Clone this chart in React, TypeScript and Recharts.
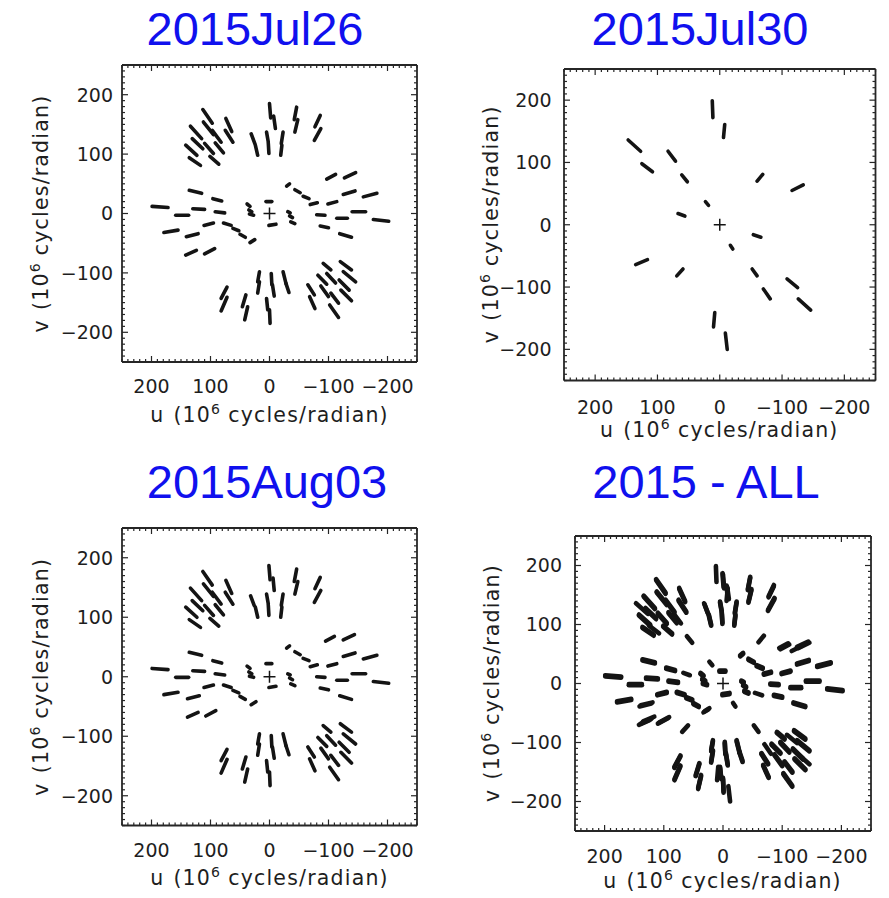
import React from 'react';
import { ScatterChart, Scatter, XAxis, YAxis, ReferenceLine } from 'recharts';

// Each baseline track: [u1, v1, u2, v2] in 10^6 cycles/radian
type Seg = [number, number, number, number];

const jul26Segments: Seg[] = [
  [113, 175, 97, 152], [74, 160, 64, 138], [134, 147, 115, 126], [112, 154, 95, 133],
  [97, 140, 82, 120], [75, 140, 62, 120], [131, 126, 113, 109], [142, 115, 123, 98],
  [110, 118, 95, 101], [92, 119, 78, 102], [136, 94, 117, 81], [101, 96, 86, 83],
  [0, 185, -2, 161], [-7, 164, -10, 143], [-46, 179, -42, 158], [-48, 158, -43, 137],
  [-86, 165, -77, 146], [-87, 143, -76, 123], [31, 134, 25, 118], [24, 115, 20, 98],
  [5, 137, 2, 120], [2, 118, 1, 101], [-23, 137, -20, 118], [-21, 115, -19, 98],
  [-97, 58, -112, 66], [-127, 60, -146, 69], [-29, 46, -34, 50], [-43, 40, -52, 35],
  [-57, 29, -67, 25], [-69, 15, -81, 18], [-99, 16, -114, 20], [-125, 32, -145, 38],
  [-159, 28, -182, 34], [-140, 3, -163, 3], [-80, -2, -94, -3], [-114, -8, -132, -8],
  [-176, -10, -202, -13], [-86, -21, -100, -24], [-119, -34, -139, -40], [-31, 3, -35, 1],
  [-34, -4, -39, -7], [-36, -14, -43, -17],
  [199, 12, 172, 10], [159, -3, 137, -3], [136, 39, 115, 34], [130, 8, 110, 7],
  [96, 25, 81, 21], [92, 3, 76, 1], [179, -32, 155, -28], [141, -39, 121, -34],
  [111, -20, 95, -16], [78, -16, 65, -20], [62, -25, 52, -29], [50, -35, 41, -40],
  [33, -49, 25, -44], [142, -70, 124, -62], [110, -68, 93, -59], [38, 16, 33, 12],
  [35, 6, 30, 3], [34, -1, 27, -3], [6, 20, -4, 20], [1, -20, -11, -18],
  [72, -124, 82, -143], [72, -141, 82, -164], [40, -137, 46, -157], [37, -157, 42, -179],
  [17, -98, 20, -115], [17, -115, 20, -134], [-3, -101, -4, -120], [-5, -120, -8, -139],
  [5, -143, 3, -162], [0, -162, -1, -185], [-23, -98, -28, -118], [-28, -118, -33, -133],
  [-65, -120, -76, -137], [-68, -140, -77, -160], [-82, -104, -97, -119], [-87, -122, -100, -140],
  [-91, -84, -104, -95], [-97, -101, -112, -117], [-104, -134, -117, -151], [-102, -154, -117, -175],
  [-120, -81, -139, -95], [-125, -98, -146, -115], [-118, -112, -135, -129], [-121, -129, -139, -147],
];

const jul30Segments: Seg[] = [
  [12, 199, 11, 172], [-8, 161, -6, 140], [147, 136, 127, 118], [125, 98, 108, 85],
  [83, 118, 71, 102], [61, 80, 52, 69], [-69, 81, -60, 70], [-134, 64, -116, 55],
  [23, 37, 18, 31], [67, 18, 56, 14], [-54, -16, -66, -20], [-17, -33, -21, -39],
  [135, -64, 116, -56], [69, -82, 59, -71], [-52, -71, -60, -82], [-108, -87, -125, -101],
  [-70, -103, -81, -119], [-126, -119, -146, -137], [8, -141, 10, -164], [-9, -174, -12, -200],
];

const aug03Segments: Seg[] = [
  [113, 177, 97, 154], [74, 162, 64, 140], [134, 149, 115, 128], [112, 156, 95, 135],
  [97, 142, 82, 122], [75, 142, 62, 122], [131, 128, 113, 111], [142, 117, 123, 100],
  [110, 120, 95, 103], [92, 121, 78, 104], [136, 96, 117, 83], [101, 98, 86, 85],
  [1, 187, -1, 163], [-6, 166, -8, 145], [-46, 181, -42, 160], [-48, 160, -43, 139],
  [-86, 167, -77, 148], [-87, 145, -76, 125], [32, 136, 26, 120], [24, 117, 20, 100],
  [5, 139, 2, 122], [2, 120, 1, 103], [-23, 139, -20, 120], [-21, 117, -19, 100],
  [-95, 60, -110, 68], [-125, 62, -144, 71], [-29, 48, -34, 52], [-43, 42, -52, 37],
  [-57, 31, -67, 27], [-69, 17, -81, 20], [-99, 18, -114, 22], [-125, 34, -145, 40],
  [-159, 30, -182, 36], [-140, 5, -163, 5], [-80, 0, -94, -1], [-114, -6, -132, -6],
  [-176, -8, -202, -11], [-86, -19, -100, -22], [-119, -32, -139, -38], [-31, 5, -35, 3],
  [-34, -2, -39, -5], [-36, -12, -43, -15],
  [199, 14, 172, 12], [159, -1, 137, -1], [136, 41, 115, 36], [130, 10, 110, 9],
  [96, 27, 81, 23], [92, 5, 76, 3], [179, -30, 155, -26], [139, -37, 119, -32],
  [111, -18, 95, -14], [78, -14, 65, -18], [62, -23, 52, -27], [50, -33, 41, -38],
  [31, -47, 23, -42], [139, -68, 121, -60], [108, -66, 91, -57], [38, 18, 33, 14],
  [35, 8, 30, 5], [34, 1, 27, -1], [6, 22, -4, 22], [1, -18, -11, -16],
  [72, -122, 82, -141], [72, -139, 82, -162], [40, -135, 46, -155], [37, -155, 42, -177],
  [17, -96, 20, -113], [17, -113, 20, -132], [-3, -99, -4, -118], [-5, -118, -8, -137],
  [5, -141, 3, -160], [0, -160, -1, -183], [-23, -96, -28, -116], [-28, -116, -33, -131],
  [-65, -118, -76, -135], [-68, -138, -77, -158], [-82, -102, -97, -117], [-87, -120, -100, -138],
  [-91, -82, -104, -93], [-97, -99, -112, -115], [-104, -132, -117, -149], [-102, -152, -117, -173],
  [-120, -79, -139, -93], [-125, -96, -146, -113], [-118, -110, -135, -127], [-121, -127, -139, -145],
];

const allSegments: Seg[] = [...jul26Segments, ...jul30Segments, ...aug03Segments];

const panelTitles = ['2015Jul26', '2015Jul30', '2015Aug03', '2015 - ALL'];
const axisDomain: [number, number] = [-250, 250];
const majorTicks = [-200, -100, 0, 100, 200];
const minorStep = 10;
const allTicks: number[] = [];
for (let t = axisDomain[0]; t <= axisDomain[1]; t += minorStep) allTicks.push(t);
const origin = [{ u: 0, v: 0 }];

// ---------- layout (pixels) ----------
type PanelCfg = {
  left: number; top: number; w: number; h: number;
  yGap: number; xLabelDy: number; xTitleDy: number; yTitleX: number;
  titleX: number; titleY: number; segW: number;
};
const panels: PanelCfg[] = [
  { left: 122, top: 65, w: 295, h: 297, yGap: 9, xLabelDy: 31, xTitleDy: 60, yTitleX: 48, titleX: 255, titleY: 45, segW: 3.6 },
  { left: 563.5, top: 68.5, w: 311.5, h: 311.5, yGap: 12.5, xLabelDy: 33, xTitleDy: 57, yTitleX: 498, titleX: 700, titleY: 45, segW: 3.6 },
  { left: 122, top: 528, w: 295, h: 297.5, yGap: 9, xLabelDy: 31, xTitleDy: 59, yTitleX: 48, titleX: 267, titleY: 498, segW: 3.6 },
  { left: 574.5, top: 535.5, w: 296, h: 295, yGap: 13, xLabelDy: 32, xTitleDy: 57, yTitleX: 499, titleX: 706, titleY: 498, segW: 4.6 },
];
const panelData: Seg[][] = [jul26Segments, jul30Segments, aug03Segments, allSegments];

const ML = 100, MT = 10, MR = 10, MB = 50;
const AX = 1; // axis box thickness
const INK = '#141414';
const FRAME = '#262626';
const LABEL_FONT = '"DejaVu Sans", sans-serif';

const fmt = (v: number) => (v < 0 ? '\u2212' + Math.abs(v) : String(v));
const isMajor = (v: number) => majorTicks.includes(v);

const tickFactory = (side: 'bottom' | 'top' | 'left' | 'right', cfg: PanelCfg) => (p: any) => {
  const { x, y, payload } = p;
  const v = payload.value as number;
  const major = isMajor(v);
  const len = major ? 6 : 3;
  let line;
  let label = null;
  if (side === 'bottom') {
    line = <line x1={x} x2={x} y1={y} y2={y - len} stroke={FRAME} strokeWidth={1.2} />;
    if (major) label = (
      <text x={x} y={y + cfg.xLabelDy} textAnchor="middle" fontSize={19} fontFamily={LABEL_FONT} fill="#1e1e1e">{fmt(v)}</text>
    );
  } else if (side === 'top') {
    line = <line x1={x} x2={x} y1={y} y2={y + len} stroke={FRAME} strokeWidth={1.2} />;
  } else if (side === 'left') {
    line = <line x1={x} x2={x + len} y1={y} y2={y} stroke={FRAME} strokeWidth={1.2} />;
    if (major) label = (
      <text x={x - cfg.yGap} y={y} dy="0.36em" textAnchor="end" fontSize={19} fontFamily={LABEL_FONT} fill="#1e1e1e">{fmt(v)}</text>
    );
  } else {
    line = <line x1={x} x2={x - len} y1={y} y2={y} stroke={FRAME} strokeWidth={1.2} />;
  }
  return <g>{line}{label}</g>;
};

const PlusShape = (p: any) => {
  const { cx, cy } = p;
  return <path d={`M${cx - 6},${cy}H${cx + 6}M${cx},${cy - 6}V${cy + 6}`} stroke={INK} strokeWidth={1.5} fill="none" />;
};

const frameLine = { stroke: FRAME, strokeWidth: 1.8 };

const Panel = ({ cfg, segments }: { cfg: PanelCfg; segments: Seg[] }) => (
  <div style={{ position: 'absolute', left: cfg.left - ML - AX, top: cfg.top - MT - AX }}>
    <ScatterChart width={ML + cfg.w + MR + 2 * AX} height={MT + cfg.h + MB + 2 * AX} margin={{ top: MT, right: MR, bottom: MB, left: ML }}>
      <XAxis xAxisId="b" orientation="bottom" type="number" dataKey="u" domain={axisDomain} reversed allowDataOverflow
        ticks={allTicks} interval={0} height={AX} tickSize={0} tickMargin={0} tickLine={false} axisLine={frameLine}
        tick={tickFactory('bottom', cfg)} />
      <XAxis xAxisId="t" orientation="top" type="number" dataKey="u" domain={axisDomain} reversed allowDataOverflow
        ticks={allTicks} interval={0} height={AX} tickSize={0} tickMargin={0} tickLine={false} axisLine={frameLine}
        tick={tickFactory('top', cfg)} />
      <YAxis yAxisId="l" orientation="left" type="number" dataKey="v" domain={axisDomain} allowDataOverflow
        ticks={allTicks} interval={0} width={AX} tickSize={0} tickMargin={0} tickLine={false} axisLine={frameLine}
        tick={tickFactory('left', cfg)} />
      <YAxis yAxisId="r" orientation="right" type="number" dataKey="v" domain={axisDomain} allowDataOverflow
        ticks={allTicks} interval={0} width={AX} tickSize={0} tickMargin={0} tickLine={false} axisLine={frameLine}
        tick={tickFactory('right', cfg)} />
      {segments.map((s, i) => (
        <ReferenceLine key={i} xAxisId="b" yAxisId="l"
          segment={[{ x: s[0], y: s[1] }, { x: s[2], y: s[3] }]}
          stroke={INK} strokeWidth={cfg.segW} strokeLinecap="round" ifOverflow="visible" />
      ))}
      <Scatter xAxisId="b" yAxisId="l" data={origin} dataKey="v" shape={PlusShape} isAnimationActive={false} />
    </ScatterChart>
  </div>
);

const AxisTitles = ({ cfg }: { cfg: PanelCfg }) => {
  const cx = cfg.left + cfg.w / 2;
  const cy = cfg.top + cfg.h / 2;
  const common = { fontSize: 20.5, fontFamily: LABEL_FONT, fill: '#1e1e1e', letterSpacing: 1.2 } as any;
  return (
    <g>
      <text x={cx} y={cfg.top + cfg.h + cfg.xTitleDy} textAnchor="middle" {...common}>
        <tspan>u</tspan>
        <tspan dx={9}>(10</tspan>
        <tspan dy={-8} fontSize={14}>6</tspan>
        <tspan dy={8} dx={7}>cycles/radian)</tspan>
      </text>
      <text transform={`translate(${cfg.yTitleX},${cy}) rotate(-90)`} x={0} y={0} textAnchor="middle" {...common}>
        <tspan>v</tspan>
        <tspan dx={9}>(10</tspan>
        <tspan dy={-8} fontSize={14}>6</tspan>
        <tspan dy={8} dx={7}>cycles/radian)</tspan>
      </text>
    </g>
  );
};

export default function App() {
  return (
    <div style={{ position: 'absolute', left: 0, top: 0, width: 889, height: 898, background: '#fff', overflow: 'hidden' }}>
      {panels.map((cfg, i) => (
        <Panel key={i} cfg={cfg} segments={panelData[i]} />
      ))}
      <svg width={889} height={898} style={{ position: 'absolute', left: 0, top: 0, pointerEvents: 'none' }}>
        {panels.map((cfg, i) => (
          <g key={i}>
            <text x={cfg.titleX} y={cfg.titleY} textAnchor="middle" fontSize={47}
              fontFamily='"Liberation Sans", Arial, sans-serif' fill="#1010ee">{panelTitles[i]}</text>
            <AxisTitles cfg={cfg} />
          </g>
        ))}
      </svg>
    </div>
  );
}
